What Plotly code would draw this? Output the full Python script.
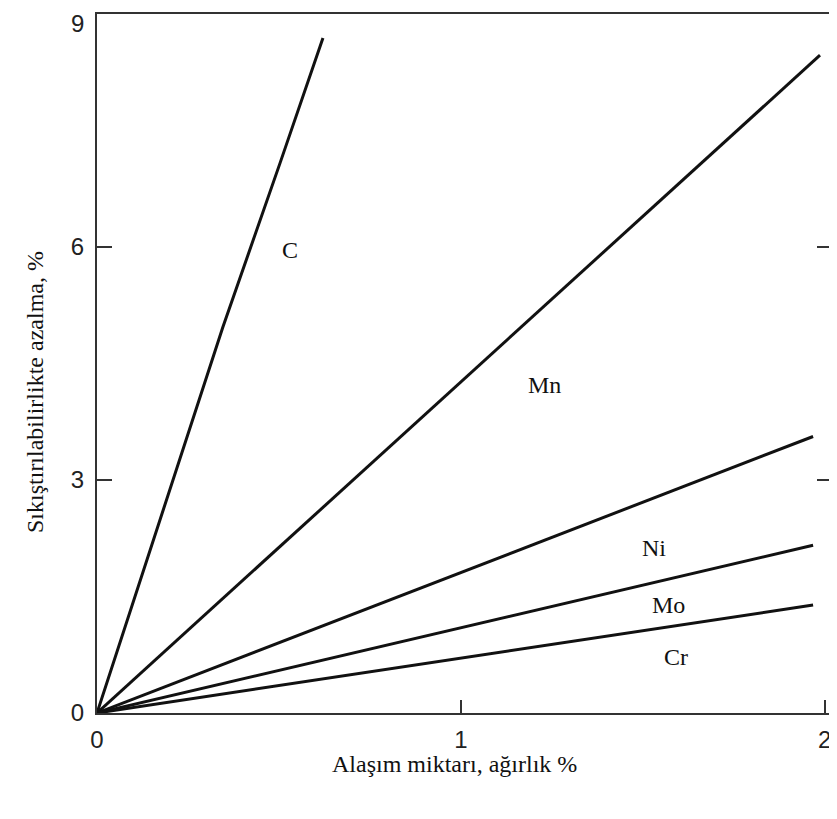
import plotly.graph_objects as go

# Data (alloy amount, wt% vs. compressibility decrease, %)
c_x = [0, 0.346, 0.503, 0.621]
c_y = [0, 4.97, 7.08, 8.69]
mn_x = [0, 1.987]
mn_y = [0, 8.47]
ni_x = [0, 1.968]
ni_y = [0, 3.56]
mo_x = [0, 1.968]
mo_y = [0, 2.16]
cr_x = [0, 1.968]
cr_y = [0, 1.39]

labels = ["C", "Mn", "Ni", "Mo", "Cr"]
label_x = [0.53, 1.23, 1.53, 1.57, 1.59]
label_y = [5.96, 4.22, 2.12, 1.39, 0.72]

x_ticks = [0, 1, 2]
y_ticks = [0, 3, 6, 9]

series = [(c_x, c_y), (mn_x, mn_y), (ni_x, ni_y), (mo_x, mo_y), (cr_x, cr_y)]

tick_font = dict(family="Liberation Sans", size=24, color="#222222")

fig = go.Figure()
for (xs, ys), name in zip(series, labels):
    fig.add_trace(go.Scatter(x=xs, y=ys, mode="lines", name=name,
                             line=dict(color="#111111", width=3),
                             showlegend=False, hoverinfo="skip"))

for t, lx, ly in zip(labels, label_x, label_y):
    fig.add_annotation(x=lx, y=ly, text=t, showarrow=False,
                       font=dict(family="Liberation Serif", size=24, color="#111111"))

# top y tick label placed as annotation so it is not clipped at the page edge
fig.add_annotation(xref="paper", x=0, y=y_ticks[-1], text=str(y_ticks[-1]),
                   xanchor="right", yanchor="top", xshift=-11, yshift=6,
                   showarrow=False, font=tick_font)

fig.add_annotation(xref="paper", yref="paper", x=-0.105, y=0.459,
                   text="Sıkıştırılabilirlikte azalma, %", textangle=-90,
                   showarrow=False,
                   font=dict(family="Liberation Serif", size=24, color="#111111"))
fig.add_annotation(xref="paper", yref="paper", x=0.487, y=-0.095,
                   text="Alaşım miktarı, ağırlık %", showarrow=False,
                   font=dict(family="Liberation Serif", size=24, color="#111111"))

# page body has an 8px margin, so the figure is sized/offset to compensate
fig.update_layout(
    width=829, height=811,
    margin=dict(l=89, r=5, t=6, b=106, autoexpand=False),
    paper_bgcolor="white", plot_bgcolor="white",
    xaxis=dict(range=[0, 2.02], tickvals=x_ticks, ticks="inside", ticklen=13,
               tickwidth=2, tickcolor="#333333", showline=True, linecolor="#333333",
               linewidth=2, mirror=True, showgrid=False, zeroline=False,
               automargin=False, ticklabeloverflow="allow",
               tickfont=tick_font, ticklabelstandoff=4),
    yaxis=dict(range=[0, 9], tickvals=y_ticks,
               ticktext=[str(v) for v in y_ticks[:-1]] + [""],
               ticks="inside", ticklen=15,
               tickwidth=2, tickcolor="#333333", showline=True, linecolor="#333333",
               linewidth=2, mirror="ticks", showgrid=False, zeroline=False,
               automargin=False, ticklabeloverflow="allow",
               tickfont=tick_font, ticklabelstandoff=6),
)

fig.write_html("out.html")
